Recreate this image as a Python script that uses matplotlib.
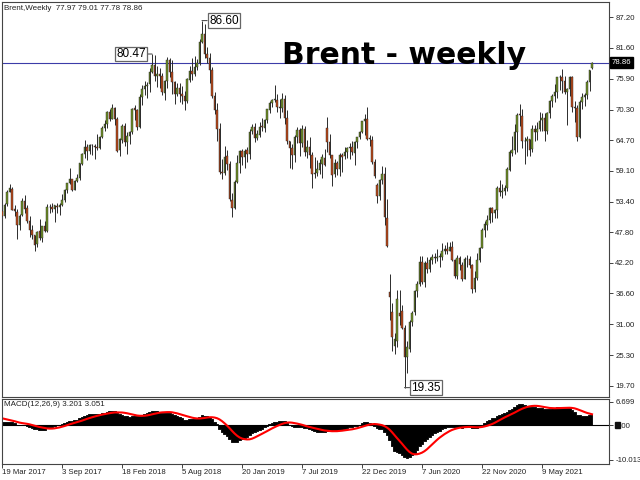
import matplotlib
matplotlib.use('Agg')
import matplotlib.pyplot as plt
from matplotlib.transforms import blended_transform_factory
from matplotlib.patches import Rectangle
import numpy as np
import pandas as pd

plt.rcParams['font.family'] = ['Liberation Sans', 'DejaVu Sans']

START = '2017-03-19'   # first weekly bar on screen

# weekly OHLC, 19 Mar 2017 .. 26 Sep 2021 (one row of the lists per ~10 weeks)
opens = [
    51.76, 50.80, 53.00, 55.20, 55.80, 52.00, 51.60, 49.20, 50.90, 53.60,
    52.20, 49.90, 48.20, 47.30, 45.60, 48.00, 46.80, 48.90, 48.10, 52.50,
    52.40, 52.10, 52.70, 52.40, 52.80, 53.80, 55.60, 56.90, 57.50, 55.60,
    57.20, 57.80, 60.40, 62.10, 63.50, 62.70, 63.80, 63.70, 63.40, 63.20,
    65.30, 66.90,
    67.60, 69.90, 68.60, 70.50, 68.60, 62.80, 64.80, 67.30, 64.40, 65.50,
    66.20, 70.50, 70.30, 67.10, 72.60, 74.00, 74.60, 74.90, 77.10, 78.50,
    76.40, 76.80, 76.50, 73.40, 75.50, 79.40, 77.10, 75.30, 73.10, 74.30,
    73.20, 72.80, 71.80, 75.80, 77.40, 76.80, 78.10, 78.80, 82.70, 84.20,
    80.40, 79.80, 77.60, 72.80, 70.20, 66.80, 58.80, 58.70, 61.70, 60.30,
    53.80, 52.20,
    57.10, 60.50, 62.70, 61.60, 62.80, 62.10, 66.30, 67.10, 65.10, 65.70,
    67.20, 67.00, 68.40, 70.30, 71.50, 72.00, 72.10, 70.80, 70.60, 72.20,
    68.70, 64.50, 63.30, 62.00, 65.20, 66.50, 64.20, 66.70, 62.50, 63.50,
    61.90, 58.50, 58.60, 59.30, 60.40, 61.50, 67.00, 64.30, 61.90, 58.40,
    60.50, 59.40, 62.00, 61.70, 62.50, 63.30, 63.40, 62.40, 64.40, 65.20,
    66.10, 68.20,
    68.60, 65.00, 64.80, 60.70, 56.50, 54.50, 57.30, 58.50, 50.50, 36.80,
    33.20, 27.00, 27.80, 33.10, 33.40, 30.30, 25.00, 26.50, 31.40, 33.20,
    37.00, 38.40, 42.30, 38.70, 42.20, 41.00, 42.80, 43.20, 43.10, 43.30,
    43.30, 44.40, 44.80, 44.40, 45.10, 42.70, 39.80, 43.10, 41.90, 39.30,
    42.90, 42.90, 41.80, 37.50, 39.50, 42.80, 45.00, 48.20, 49.20, 50.00,
    52.30, 51.30,
    51.80, 56.00, 55.10, 55.40, 55.90, 59.30, 62.40, 62.90, 66.10, 69.40,
    69.20, 64.50, 64.60, 64.90, 63.00, 66.80, 66.10, 66.80, 68.30, 68.70,
    66.40, 69.60, 71.90, 72.70, 73.50, 76.20, 76.20, 75.50, 73.60, 74.10,
    76.30, 70.70, 70.60, 65.20, 71.70, 72.60, 72.90, 75.30, 77.97,
]
highs = [
    51.98, 53.10, 55.50, 56.65, 56.15, 52.80, 52.10, 51.10, 54.00, 54.70,
    52.75, 50.70, 49.10, 47.40, 48.10, 50.20, 49.00, 49.90, 52.90, 53.00,
    53.20, 52.80, 53.10, 53.20, 54.90, 55.80, 56.90, 59.50, 57.60, 57.30,
    58.50, 60.50, 62.30, 64.65, 64.00, 64.00, 64.00, 64.00, 65.80, 65.50,
    67.30, 68.30,
    70.05, 70.40, 71.30, 70.80, 68.90, 65.00, 67.70, 67.80, 66.20, 66.30,
    70.60, 71.10, 70.40, 73.10, 74.75, 75.45, 75.30, 77.85, 80.47, 80.20,
    78.30, 77.90, 77.00, 75.80, 79.90, 79.80, 79.40, 75.60, 75.20, 75.20,
    74.70, 73.70, 76.00, 78.20, 79.70, 80.10, 79.60, 83.30, 86.60, 85.90,
    81.70, 80.60, 78.00, 73.60, 71.50, 67.80, 61.30, 63.70, 62.80, 60.90,
    55.00, 57.40,
    61.90, 62.90, 63.00, 63.00, 63.40, 66.80, 67.60, 67.80, 66.50, 68.10,
    68.70, 68.50, 70.40, 71.80, 72.30, 74.80, 73.20, 72.20, 73.30, 73.00,
    70.20, 64.50, 63.90, 65.60, 67.10, 67.00, 67.50, 67.30, 64.80, 65.30,
    62.60, 61.60, 61.00, 61.20, 62.10, 63.00, 69.00, 65.80, 62.00, 61.30,
    60.80, 62.30, 62.30, 63.40, 63.40, 64.10, 64.50, 64.60, 65.30, 66.30,
    68.20, 69.50,
    70.80, 65.70, 65.40, 61.30, 56.90, 57.60, 60.00, 59.70, 53.90, 40.20,
    34.80, 29.30, 37.20, 37.20, 34.50, 30.80, 27.80, 31.80, 33.40, 37.30,
    38.80, 43.40, 43.40, 42.60, 43.20, 43.30, 43.80, 44.00, 44.80, 44.00,
    45.80, 45.50, 46.00, 46.10, 46.20, 42.90, 43.60, 43.40, 42.40, 43.20,
    43.60, 43.40, 42.00, 40.70, 44.00, 45.20, 48.60, 49.90, 50.90, 52.50,
    52.50, 52.00,
    56.30, 57.40, 56.60, 56.40, 59.80, 62.80, 65.50, 67.70, 69.60, 71.40,
    70.40, 65.30, 65.40, 64.90, 67.40, 67.50, 68.00, 69.80, 69.70, 69.60,
    69.80, 72.00, 73.10, 74.90, 76.20, 76.60, 77.80, 76.40, 74.20, 76.50,
    76.40, 71.80, 71.10, 72.10, 73.30, 73.40, 75.80, 77.60, 79.01,
]
lows = [
    50.25, 50.40, 52.70, 55.10, 51.80, 50.80, 46.60, 48.30, 50.70, 51.30,
    49.60, 47.00, 46.60, 44.35, 45.10, 46.40, 46.10, 47.80, 47.90, 51.40,
    51.60, 49.70, 51.40, 50.90, 52.60, 53.30, 55.00, 56.60, 55.40, 55.50,
    57.00, 57.40, 60.10, 61.50, 61.10, 62.10, 61.90, 61.30, 62.90, 63.10,
    65.00, 66.40,
    67.00, 68.20, 68.50, 67.50, 62.50, 61.80, 64.20, 63.60, 62.20, 63.90,
    65.90, 68.30, 66.60, 67.00, 71.20, 73.00, 72.40, 73.50, 77.00, 75.50,
    74.50, 74.20, 72.90, 72.10, 74.20, 76.20, 73.10, 71.40, 72.70, 71.70,
    71.40, 70.30, 71.50, 75.40, 75.80, 76.50, 77.50, 78.40, 82.50, 79.80,
    78.80, 75.10, 72.40, 69.50, 64.60, 58.40, 57.50, 58.30, 59.30, 53.50,
    50.60, 52.00,
    56.80, 58.70, 60.10, 59.60, 60.60, 61.30, 65.90, 64.30, 64.80, 65.30,
    66.30, 66.10, 67.90, 69.70, 70.80, 71.60, 69.80, 68.80, 69.90, 67.60,
    64.00, 59.50, 59.45, 60.60, 64.10, 61.80, 63.40, 61.80, 61.50, 59.60,
    55.90, 57.70, 58.10, 58.40, 57.70, 59.90, 62.50, 61.50, 56.20, 57.90,
    58.30, 58.20, 58.90, 61.20, 61.40, 61.30, 61.90, 60.10, 63.20, 64.90,
    66.00, 65.70,
    64.80, 63.70, 60.40, 57.70, 53.20, 53.70, 56.60, 49.20, 45.20, 31.80,
    26.00, 25.50, 26.80, 30.80, 30.00, 19.35, 22.10, 25.90, 30.70, 32.60,
    35.90, 38.00, 38.30, 37.70, 40.40, 40.50, 42.00, 42.20, 42.50, 41.50,
    42.80, 43.90, 43.90, 44.30, 42.60, 39.40, 39.30, 40.90, 38.90, 39.20,
    41.50, 41.20, 36.60, 36.80, 39.00, 42.40, 44.90, 47.00, 48.20, 49.60,
    49.70, 50.50,
    50.40, 54.40, 54.10, 54.60, 55.30, 59.00, 61.80, 62.20, 62.50, 67.20,
    63.20, 60.30, 61.70, 61.80, 62.50, 64.60, 64.80, 66.40, 66.40, 64.60,
    65.90, 68.80, 70.80, 71.70, 72.50, 73.90, 73.30, 73.10, 67.40, 72.70,
    69.90, 68.00, 64.60, 65.00, 70.40, 71.00, 72.30, 73.70, 77.78,
]
closes = [
    50.80, 52.83, 55.24, 55.89, 51.96, 51.73, 49.10, 50.84, 53.61, 52.15,
    49.95, 48.15, 47.37, 45.54, 47.92, 46.71, 48.91, 48.06, 52.52, 52.42,
    52.10, 52.72, 52.41, 52.75, 53.78, 55.62, 56.86, 57.54, 55.62, 57.17,
    57.75, 60.44, 62.07, 63.52, 62.72, 63.86, 63.73, 63.40, 63.23, 65.25,
    66.87, 67.62,
    69.87, 68.61, 70.52, 68.58, 62.79, 64.84, 67.31, 64.37, 65.49, 66.21,
    70.45, 70.27, 67.11, 72.58, 74.06, 74.64, 74.87, 77.12, 78.51, 76.44,
    76.79, 76.46, 73.44, 75.55, 79.44, 77.11, 75.33, 73.07, 74.29, 73.21,
    72.81, 71.83, 75.82, 77.42, 76.83, 78.09, 78.80, 82.72, 84.16, 80.43,
    79.78, 77.62, 72.83, 70.18, 66.76, 58.80, 58.71, 61.67, 60.28, 53.82,
    52.20, 57.06,
    60.48, 62.70, 61.64, 62.75, 62.10, 66.25, 67.12, 65.07, 65.74, 67.16,
    67.03, 68.39, 70.34, 71.55, 71.97, 72.15, 70.85, 70.62, 72.21, 68.69,
    64.49, 63.29, 62.01, 65.20, 66.55, 64.23, 66.72, 62.47, 63.46, 61.89,
    58.53, 58.64, 59.34, 60.43, 61.54, 60.22, 64.28, 61.91, 58.37, 60.51,
    59.42, 62.02, 61.69, 62.51, 63.30, 63.39, 62.43, 64.39, 65.22, 66.14,
    68.16, 68.60,
    64.98, 64.85, 60.69, 58.16, 54.47, 57.32, 58.50, 50.52, 45.27, 36.00,
    28.60, 28.20, 35.50, 32.50, 30.30, 24.90, 26.80, 31.30, 33.10, 37.00,
    38.30, 42.30, 38.73, 42.19, 41.02, 42.80, 43.24, 43.14, 43.34, 43.30,
    44.40, 44.80, 44.35, 45.05, 42.66, 39.83, 43.15, 41.92, 39.27, 42.85,
    42.93, 41.77, 37.46, 39.45, 42.78, 44.96, 48.18, 49.25, 49.97, 52.26,
    51.29, 51.80,
    55.99, 55.10, 55.41, 55.88, 59.34, 62.43, 62.91, 66.13, 69.36, 69.22,
    64.53, 64.57, 64.86, 62.95, 66.77, 66.11, 66.76, 68.28, 68.71, 66.44,
    69.63, 71.89, 72.69, 73.51, 76.18, 76.17, 75.55, 73.59, 74.10, 76.33,
    70.70, 70.59, 65.18, 71.70, 72.61, 72.92, 75.34, 77.50, 78.86,
]

# closes before the first visible bar, only used to warm up the MACD
warmup_closes = [
    46.76, 47.61, 45.69, 42.46, 44.27, 46.97, 50.88, 49.92, 46.83, 48.01,
    45.77, 45.89, 49.06, 51.93, 51.95, 51.78, 49.71, 45.58, 44.75, 46.86,
    47.24, 54.46, 54.33, 55.21, 55.16, 56.82, 57.10, 55.45, 55.49, 55.52,
    56.81, 56.70, 55.81, 55.99, 55.90, 51.37, 51.76,
]

price_ticks = [87.20, 81.60, 75.90, 70.30, 64.70, 59.10, 53.40, 47.80,
               42.20, 36.60, 31.00, 25.30, 19.70]
macd_ticks = [6.699, 0.0, -10.013]
macd_tick_labels = ['6.699', '0.00', '-10.013']
macd_last, signal_last = 3.201, 3.051

GREEN = '#6f9126'
RED = '#bd4a1a'
W, H = 640, 480


def frac(x0, y0, x1, y1):
    # pixel box (top-left origin) -> figure fraction rect
    return [x0 / W, 1 - y1 / H, (x1 - x0) / W, (y1 - y0) / H]


def ema(x, n):
    a = 2.0 / (n + 1)
    out = np.empty(len(x))
    out[0] = x[0]
    for i in range(1, len(x)):
        out[i] = a * x[i] + (1 - a) * out[i - 1]
    return out


o = np.array(opens)
h = np.array(highs)
l = np.array(lows)
c = np.array(closes)
n = len(c)
idx = np.arange(n)

full = np.concatenate([warmup_closes, c])
macd_full = ema(full, 12) - ema(full, 26)
sig_full = pd.Series(macd_full).rolling(9).mean().to_numpy()
macd = macd_full[len(warmup_closes):]
signal = sig_full[len(warmup_closes):]

fig = plt.figure(figsize=(6.4, 4.8), dpi=100)
ax = fig.add_axes(frac(1.5, 2, 609, 396.5))
ax2 = fig.add_axes(frac(1.5, 398.5, 609, 464))
xlim = (-0.2, 242.8)

# ---- price panel
ax.axhline(c[-1], color='#3c3ca8', lw=0.8, zorder=1)
ax.vlines(idx, l, h, color='#2b2b2b', lw=0.7, zorder=2)
up = c >= o
ax.bar(idx, np.maximum(np.abs(c - o), 0.08), bottom=np.minimum(o, c), width=0.72,
       color=np.where(up, GREEN, RED), edgecolor='#222222', linewidth=0.3, zorder=3)

ax.set_xlim(*xlim)
ax.set_ylim(17.72, 90.0)
ax.yaxis.tick_right()
ax.set_yticks(price_ticks)
ax.set_yticklabels([f'{v:.2f}' for v in price_ticks])
ax.set_xticks([])
ax.tick_params(axis='y', direction='out', length=3, width=0.6, pad=1.5,
               labelsize=5.6, colors='#222222')

ax.annotate(f'{c[-1]:.2f}', xy=(1, c[-1]), xycoords=('axes fraction', 'data'),
            xytext=(3, 0), textcoords='offset pixels', ha='left', va='center',
            color='white', fontsize=5.6, annotation_clip=False,
            bbox=dict(boxstyle='square,pad=0.25', fc='black', ec='black'))

box = dict(boxstyle='square,pad=0.12', fc='white', ec='#666666', lw=0.9)
line = dict(arrowstyle='-', color='#555555', lw=0.8, shrinkA=0, shrinkB=0)
i_top = int(np.argmax(h))
i_bot = int(np.argmin(l))
i_prev = int(np.argmax(h[:i_top - 10]))
ax.annotate(f'{h[i_prev]:.2f}', xy=(i_prev, h[i_prev]), xytext=(-6, 0),
            textcoords='offset pixels', ha='right', va='center', fontsize=8.5,
            bbox=box, arrowprops=line, zorder=6)
ax.annotate(f'{h[i_top]:.2f}', xy=(i_top, h[i_top]), xytext=(7, 0),
            textcoords='offset pixels', ha='left', va='center', fontsize=8.5,
            bbox=box, arrowprops=line, zorder=6)
ax.annotate(f'{l[i_bot]:.2f}', xy=(i_bot, l[i_bot]), xytext=(7, 0),
            textcoords='offset pixels', ha='left', va='center', fontsize=8.5,
            bbox=box, arrowprops=line, zorder=6)

fig.text(4 / W, 1 - 8 / H, f'Brent,Weekly  {o[-1]:.2f} {h[-1]:.2f} {l[-1]:.2f} {c[-1]:.2f}',
         va='center', ha='left', fontsize=5.8, color='#222222')
fig.text(282 / W, 1 - 63.5 / H, 'Brent - weekly', fontsize=21.5, fontweight='bold',
         family='DejaVu Sans', va='baseline', ha='left', color='black', zorder=10)

# ---- MACD panel (histogram drawn as a solid stepped area, like MT4)
ax2.fill_between(idx, macd, 0, step='mid', color='black', linewidth=0.6,
                 edgecolor='black')
ax2.axhline(0, color='black', lw=0.8)
ax2.plot(idx, signal, color='red', lw=1.5)
ax2.set_xlim(*xlim)
ax2.set_ylim(-11.3, 7.68)
ax2.yaxis.tick_right()
ax2.set_yticks(macd_ticks)
ax2.set_yticklabels(macd_tick_labels)
ax2.tick_params(axis='y', direction='out', length=3, width=0.6, pad=1.5,
                labelsize=5.6, colors='#222222')
# dark marker over the first digit of the zero label
ax2.add_patch(Rectangle((1.0095, -1.0), 0.0085, 2.0, transform=blended_transform_factory(
    ax2.transAxes, ax2.transData), color='#111111', clip_on=False, zorder=5))

dates = pd.date_range(START, periods=n, freq='7D')
date_pos = list(range(0, n, 24))
ax2.set_xticks(date_pos)
ax2.tick_params(axis='x', direction='out', length=3, width=0.6, labelbottom=False,
                colors='#222222')
trans = blended_transform_factory(ax2.transData, ax2.transAxes)
for i in date_pos:
    d = dates[i]
    ax2.text(i, -0.08, f'{d.day} {d:%b %Y}', transform=trans, ha='left', va='top',
             fontsize=5.6, color='#222222')

fig.text(4 / W, 1 - 405 / H, f'MACD(12,26,9) {macd_last:.3f} {signal_last:.3f}',
         va='center', ha='left', fontsize=5.8, color='#222222')

for a in (ax, ax2):
    for s in a.spines.values():
        s.set_color('#444444')
        s.set_linewidth(0.8)

fig.savefig('out.png', dpi=100)
